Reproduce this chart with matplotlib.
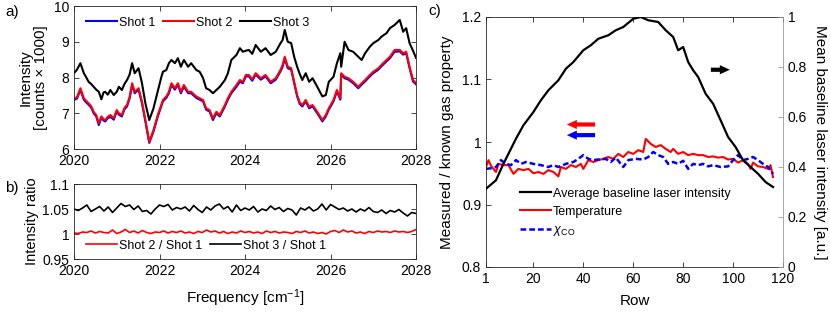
import matplotlib
matplotlib.use("Agg")
import matplotlib.pyplot as plt
import numpy as np

plt.rcParams['font.family'] = ['Liberation Sans', 'DejaVu Sans']
plt.rcParams['mathtext.fontset'] = 'custom'
plt.rcParams['mathtext.rm'] = 'Liberation Sans'
plt.rcParams['mathtext.it'] = 'Liberation Sans:italic'

# ---- panel a: spectra of three shots ----
freq = [2020.00, 2020.07, 2020.15, 2020.23, 2020.28, 2020.34, 2020.40, 2020.46, 2020.52, 2020.58,
        2020.64, 2020.69, 2020.73, 2020.79, 2020.85, 2020.93,
        2021.00, 2021.05, 2021.12, 2021.18, 2021.24, 2021.30, 2021.36, 2021.42, 2021.51, 2021.59,
        2021.67, 2021.76, 2021.86, 2021.96,
        2022.04, 2022.08, 2022.16, 2022.22, 2022.28, 2022.36, 2022.43, 2022.50, 2022.57, 2022.67,
        2022.74, 2022.86, 2022.94,
        2023.02, 2023.09, 2023.17, 2023.25, 2023.33, 2023.41, 2023.53, 2023.60, 2023.68, 2023.80,
        2023.88, 2023.95,
        2024.02, 2024.09, 2024.17, 2024.25, 2024.37, 2024.48, 2024.60, 2024.72, 2024.83, 2024.88,
        2024.93,
        2025.00, 2025.08, 2025.15, 2025.22, 2025.28, 2025.34, 2025.42, 2025.50, 2025.58, 2025.69,
        2025.81, 2025.89, 2025.96,
        2026.07, 2026.15, 2026.23, 2026.25, 2026.33, 2026.42, 2026.53, 2026.65, 2026.73, 2026.81,
        2026.92,
        2027.00, 2027.12, 2027.19, 2027.31, 2027.39, 2027.50, 2027.62, 2027.70, 2027.77, 2027.85,
        2027.93,
        2028.00]

shot1 = [7.37, 7.41, 7.65, 7.38, 7.31, 7.24, 7.16, 7.00, 6.91, 6.67, 6.87, 6.80, 6.77, 6.86, 6.90, 6.82,
         7.05, 6.96, 6.91, 7.11, 7.19, 7.41, 7.79, 7.56, 7.66, 7.28, 6.77, 6.17, 6.49, 6.91,
         7.19, 7.33, 7.43, 7.56, 7.79, 7.66, 7.80, 7.56, 7.74, 7.56, 7.56, 7.43, 7.38,
         7.33, 7.10, 7.05, 6.81, 7.00, 6.91, 7.19, 7.38, 7.56, 7.74, 7.88, 7.84,
         8.03, 8.03, 7.91, 8.08, 7.94, 8.03, 7.84, 7.94, 8.17, 8.30, 8.53,
         8.26, 8.22, 7.84, 7.47, 7.26, 7.19, 7.33, 7.14, 7.19, 7.00, 6.77, 6.91, 7.10,
         7.33, 7.61, 7.38, 8.08, 7.98, 7.94, 7.84, 7.70, 7.80, 7.89, 8.03,
         8.12, 8.22, 8.31, 8.45, 8.54, 8.72, 8.73, 8.64, 8.68, 8.26, 7.89,
         7.81]

shot2 = [7.40, 7.45, 7.70, 7.42, 7.35, 7.28, 7.20, 7.04, 6.95, 6.72, 6.91, 6.84, 6.81, 6.90, 6.95, 6.86,
         7.09, 7.00, 6.95, 7.15, 7.23, 7.45, 7.84, 7.60, 7.70, 7.32, 6.81, 6.20, 6.53, 6.95,
         7.23, 7.37, 7.47, 7.60, 7.84, 7.70, 7.84, 7.60, 7.79, 7.60, 7.60, 7.47, 7.42,
         7.37, 7.14, 7.09, 6.86, 7.04, 6.95, 7.23, 7.42, 7.60, 7.79, 7.93, 7.88,
         8.07, 8.07, 7.95, 8.12, 7.98, 8.07, 7.88, 7.98, 8.21, 8.35, 8.58,
         8.30, 8.26, 7.88, 7.51, 7.30, 7.23, 7.37, 7.18, 7.23, 7.04, 6.81, 6.95, 7.14,
         7.37, 7.65, 7.42, 8.12, 8.02, 7.98, 7.88, 7.74, 7.84, 7.93, 8.07,
         8.16, 8.26, 8.35, 8.49, 8.58, 8.77, 8.77, 8.68, 8.72, 8.30, 7.93,
         7.85]

shot3 = [8.12, 8.22, 8.40, 8.12, 8.02, 7.88, 7.82, 7.74, 7.66, 7.60, 7.39, 7.58, 7.60, 7.52, 7.65, 7.51,
         7.60, 7.74, 7.65, 7.82, 7.93, 8.08, 8.40, 8.12, 8.26, 7.84, 7.28, 6.81, 7.14, 7.62,
         8.00, 8.16, 8.21, 8.40, 8.49, 8.40, 8.54, 8.30, 8.49, 8.30, 8.40, 8.21, 8.16,
         7.98, 7.70, 7.65, 7.56, 7.65, 7.74, 7.93, 8.12, 8.49, 8.63, 8.82, 8.72,
         8.75, 8.77, 8.66, 8.91, 8.72, 8.82, 8.63, 8.72, 8.96, 9.05, 9.33,
         9.00, 8.96, 8.58, 8.30, 8.10, 7.93, 8.12, 7.88, 7.98, 7.74, 7.47, 7.51, 7.88,
         8.02, 8.40, 8.68, 8.30, 9.00, 8.77, 8.72, 8.58, 8.49, 8.68, 8.86,
         8.96, 9.05, 9.14, 9.24, 9.38, 9.47, 9.61, 9.28, 9.38, 8.96, 8.75,
         8.55]

# ---- panel b: intensity ratios (0.1 cm-1 steps from 2020 to 2028) ----
ratio_freq = np.arange(2020.0, 2028.05, 0.1)
ratio21 = [1.002, 1.001, 1.004, 1.003, 1.006, 1.002, 1.005, 1.003, 1.002, 1.008,
           1.001, 1.004, 1.009, 1.003, 1.006, 1.002, 1.007, 1.003, 1.001, 1.004,
           1.003, 1.006, 1.002, 1.005, 1.003, 1.006, 1.002, 1.004, 1.001, 1.005,
           1.003, 1.008, 1.004, 1.006, 1.002, 1.005, 1.001, 1.004, 1.002, 1.006,
           1.003, 1.005, 1.002, 1.004, 1.001, 1.006, 1.003, 1.005, 1.002, 1.004,
           1.003, 1.001, 1.005, 1.003, 1.006, 1.002, 1.004, 1.001, 1.003, 1.000,
           1.005, 1.007, 1.003, 1.008, 1.004, 1.006, 1.002, 1.004, 1.001, 1.005,
           1.003, 1.006, 1.004, 1.005, 1.003, 1.006, 1.004, 1.005, 1.003, 1.005,
           1.009]
ratio31 = [1.050, 1.047, 1.052, 1.058, 1.045, 1.050, 1.055, 1.046, 1.054, 1.043,
           1.052, 1.061, 1.055, 1.058, 1.049, 1.056, 1.045, 1.047, 1.040, 1.050,
           1.058, 1.055, 1.059, 1.048, 1.053, 1.050, 1.054, 1.046, 1.057, 1.049,
           1.043, 1.054, 1.048, 1.056, 1.060, 1.050, 1.055, 1.044, 1.058, 1.047,
           1.052, 1.048, 1.055, 1.044, 1.050, 1.047, 1.056, 1.049, 1.053, 1.045,
           1.051, 1.048, 1.038, 1.052, 1.048, 1.054, 1.046, 1.050, 1.060, 1.048,
           1.059, 1.054, 1.049, 1.052, 1.046, 1.050, 1.044, 1.050, 1.046, 1.053,
           1.045, 1.043, 1.048, 1.041, 1.047, 1.044, 1.049, 1.042, 1.036, 1.043,
           1.041]

# ---- panel c: row profiles ----
rows_int = [1, 5, 8, 10, 13, 16, 20, 23, 26, 30, 33, 36, 40, 43, 46, 50, 53, 56, 60, 63,
            66, 70, 73, 76, 78, 80, 82, 84, 86, 89, 92, 95, 98, 101, 104, 107, 110, 113, 116]
baseline_int = [0.313, 0.347, 0.413, 0.453, 0.513, 0.567, 0.620, 0.667, 0.707, 0.747,
                0.793, 0.820, 0.867, 0.887, 0.913, 0.927, 0.947, 0.960, 0.993, 1.000,
                0.987, 0.980, 0.947, 0.920, 0.867, 0.880, 0.820, 0.787, 0.760, 0.693,
                0.653, 0.587, 0.520, 0.480, 0.427, 0.400, 0.373, 0.340, 0.320]

rows_T = [1, 2, 3, 5, 6, 8, 10, 12, 14, 16, 18, 20, 22, 24, 26, 28, 30, 31, 33, 35,
          37, 39, 40, 42, 44, 46, 48, 50, 52, 54, 56, 58, 60, 62, 64, 65, 67, 69, 71, 73,
          75, 76, 78, 80, 82, 84, 86, 88, 90, 92, 94, 96, 98, 100, 102, 104, 106, 107, 108, 110,
          112, 114, 115, 116]
temperature = [0.960, 0.971, 0.962, 0.952, 0.965, 0.963, 0.963, 0.949, 0.957, 0.955,
               0.957, 0.950, 0.952, 0.949, 0.955, 0.952, 0.945, 0.960, 0.957, 0.963,
               0.960, 0.965, 0.957, 0.971, 0.968, 0.971, 0.973, 0.976, 0.973, 0.981,
               0.976, 0.984, 0.981, 0.987, 0.984, 1.005, 0.997, 0.992, 0.995, 0.989,
               0.984, 0.989, 0.981, 0.984, 0.979, 0.981, 0.979, 0.979, 0.976, 0.977,
               0.975, 0.976, 0.972, 0.973, 0.967, 0.971, 0.965, 0.957, 0.967, 0.961,
               0.960, 0.957, 0.963, 0.944]

rows_X = [1, 3, 5, 7, 9, 11, 13, 15, 17, 20, 23, 26, 28, 30, 33, 36, 38, 40, 42, 44,
          46, 49, 51, 53, 56, 58, 61, 64, 66, 68, 70, 72, 74, 76, 78, 80, 82, 84, 86, 88,
          90, 92, 95, 98, 100, 102, 104, 106, 108, 110, 112, 114, 116]
x_co = [0.957, 0.958, 0.960, 0.971, 0.965, 0.963, 0.971, 0.965, 0.968, 0.965,
        0.963, 0.960, 0.963, 0.960, 0.965, 0.968, 0.973, 0.979, 0.973, 0.971,
        0.972, 0.973, 0.968, 0.975, 0.960, 0.971, 0.973, 0.972, 0.976, 0.984,
        0.979, 0.976, 0.965, 0.968, 0.965, 0.970, 0.957, 0.965, 0.963, 0.965,
        0.961, 0.963, 0.960, 0.961, 0.971, 0.979, 0.971, 0.973, 0.976, 0.971,
        0.965, 0.960, 0.949]

W, H = 830, 313
fig = plt.figure(figsize=(W / 100, H / 100), dpi=100)

def rect(l, t, r, b):
    return [l / W, 1 - b / H, (r - l) / W, (b - t) / H]

def style(ax, col='#262626'):
    for s in ax.spines.values():
        s.set_color(col)
        s.set_linewidth(0.6)
    ax.tick_params(direction='in', length=3.5, width=0.6, labelsize=10, color=col,
                   top=True, right=True)

axa = fig.add_axes(rect(74, 6, 416, 149))
axb = fig.add_axes(rect(74, 184, 416, 259))
axc = fig.add_axes(rect(486, 17, 783, 267))

# a)
axa.plot(freq, shot1, color='#0000ff', lw=1.5, label='Shot 1')
axa.plot(freq, shot2, color='#ff0000', lw=1.5, label='Shot 2')
axa.plot(freq, shot3, color='black', lw=1.5, label='Shot 3')
axa.set_xlim(2020, 2028)
axa.set_ylim(6, 10)
axa.set_xticks([2020, 2022, 2024, 2026, 2028])
axa.set_yticks([6, 7, 8, 9, 10])
style(axa)
axa.set_ylabel('Intensity\n[counts \u00d7 1000]', fontsize=11, linespacing=1.1, labelpad=4)
axa.legend(loc='center left', bbox_to_anchor=(0.035, 0.883), ncol=3, frameon=False,
           fontsize=9, handlelength=2.5, handletextpad=0.15, columnspacing=0.6,
           borderpad=0, borderaxespad=0)

# b)
axb.plot(ratio_freq, ratio21, color='#ff0000', lw=1.2, label='Shot 2 / Shot 1')
axb.plot(ratio_freq, ratio31, color='black', lw=1.2, label='Shot 3 / Shot 1')
axb.set_xlim(2020, 2028)
axb.set_ylim(0.95, 1.1)
axb.set_xticks([2020, 2022, 2024, 2026, 2028])
axb.set_yticks([0.95, 1.0, 1.05, 1.1])
axb.set_yticklabels(['0.95', '1', '1.05', '1.1'])
style(axb)
axb.set_ylabel('Intensity ratio', fontsize=10.5, labelpad=2)
axb.set_xlabel('Frequency [cm$^{-1}$]', fontsize=11, labelpad=7)
axb.legend(loc='center left', bbox_to_anchor=(0.035, 0.177), ncol=2, frameon=False,
           fontsize=9, handlelength=2.5, handletextpad=0.15, columnspacing=0.6,
           borderpad=0, borderaxespad=0)

# c)
axc2 = axc.twinx()
lt, = axc.plot(rows_T, temperature, color='#ff0000', lw=1.5, label='Temperature')
lx, = axc.plot(rows_X, x_co, color='#0000ff', lw=1.8, ls=(0, (2.3, 1.2)), label=r'$\chi_{\mathrm{CO}}$')
lb, = axc2.plot(rows_int, baseline_int, color='black', lw=1.6, label='Average baseline laser intensity')
axc.set_xlim(1, 120)
axc.set_ylim(0.8, 1.2)
axc.set_xticks([1, 20, 40, 60, 80, 100, 120])
axc.set_yticks([0.8, 0.9, 1.0, 1.1, 1.2])
axc.set_yticklabels(['0.8', '0.9', '1', '1.1', '1.2'])
axc2.set_ylim(0, 1)
axc2.set_yticks([0, 0.2, 0.4, 0.6, 0.8, 1.0])
axc2.set_yticklabels(['0', '0.2', '0.4', '0.6', '0.8', '1'])
style(axc)
axc.tick_params(right=False)
for s in axc2.spines.values():
    s.set_visible(False)
axc2.spines['right'].set_visible(True)
axc2.spines['right'].set_color('#999999')
axc2.spines['right'].set_linewidth(0.6)
axc.spines['right'].set_visible(False)
axc2.tick_params(direction='in', length=3.5, width=0.6, labelsize=10, color='#999999')
axc.set_xlabel('Row', fontsize=11, labelpad=6)
axc.set_ylabel('Measured / known gas property', fontsize=11, labelpad=6)
axc2.set_ylabel('Mean baseline laser intensity [a.u.]', fontsize=11, rotation=270, labelpad=14)

arrow = dict(arrowstyle='simple,head_length=0.6,head_width=0.55,tail_width=0.25',
             mutation_scale=12, lw=0, shrinkA=0, shrinkB=0)
axc.annotate('', xy=(33.4, 1.028), xytext=(44.7, 1.028), arrowprops=dict(arrow, color='#ff0000'))
axc.annotate('', xy=(33.4, 1.011), xytext=(44.7, 1.011), arrowprops=dict(arrow, color='#0000ff'))
axc2.annotate('', xy=(98.7, 0.789), xytext=(91.1, 0.789), arrowprops=dict(arrow, color='black'))

axc2.legend([lb, lt, lx], [lb.get_label(), lt.get_label(), lx.get_label()],
            loc='upper left', bbox_to_anchor=(0.114, 0.318), frameon=False, fontsize=9,
            handlelength=2.5, handletextpad=0.15, labelspacing=0.5,
            borderpad=0, borderaxespad=0)

fig.text(5 / W, 1 - 12 / H, 'a)', fontsize=11, va='center')
fig.text(5 / W, 1 - 188 / H, 'b)', fontsize=11, va='center')
fig.text(428 / W, 1 - 11 / H, 'c)', fontsize=11, va='center')

fig.savefig('out.png', dpi=100)
